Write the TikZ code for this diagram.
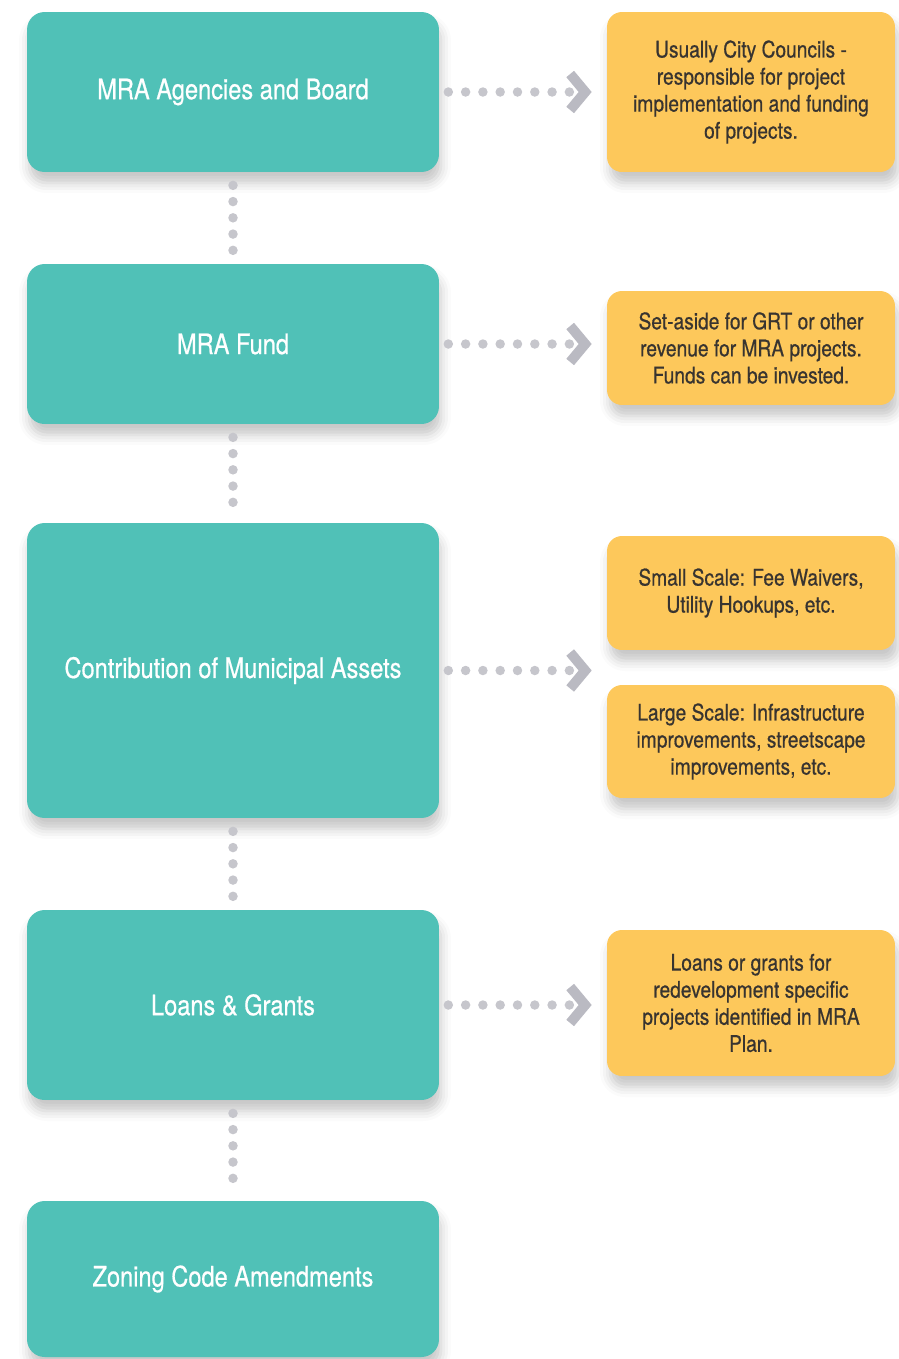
\documentclass[tikz,border=0pt]{standalone}
\usepackage{fontspec}
\setmainfont{TeX Gyre Heros}[FakeStretch=0.84, FakeBold=0.6]
\usepackage{xcolor}
\usetikzlibrary{arrows.meta,positioning,shadows.blur}
\definecolor{mraTeal}{RGB}{80,193,183}
\definecolor{noteGold}{RGB}{253,200,91}
\definecolor{noteText}{RGB}{56,52,48}
\definecolor{dotGrey}{RGB}{198,198,204}
\definecolor{chevGrey}{RGB}{186,186,194}
\tikzset{
  stage/.style={fill=mraTeal, rounded corners=10pt, text=white, align=center,
                font=\fontsize{16}{19}\selectfont, minimum width=8.24cm, inner sep=0pt,
                blur shadow={shadow xshift=0.04cm, shadow yshift=-0.22cm,
                             shadow blur radius=0.2cm, shadow opacity=22}},
  note/.style={fill=noteGold, rounded corners=8.5pt, text=noteText, align=center,
               font=\fontsize{13}{15.4}\selectfont, minimum width=5.76cm, inner sep=0pt,
               blur shadow={shadow xshift=0.06cm, shadow yshift=-0.22cm,
                            shadow blur radius=0.2cm, shadow opacity=22}},
  link/.style={draw=dotGrey, line width=0.19cm, line cap=round,
               dash pattern=on 0pt off 0.346cm, shorten <=0.18cm, shorten >=0.3cm,
               -{Straight Barb[length=0.3cm, width=0.72cm, line width=0.2cm, color=chevGrey]}},
  vlink/.style={draw=dotGrey, line width=0.19cm, line cap=round,
                dash pattern=on 0pt off 0.325cm, shorten <=0.26cm, shorten >=0.26cm}
}
\begin{document}
\begin{tikzpicture}[x=0.02cm, y=-0.02cm]
  \useasboundingbox (0,0) rectangle (899,1359);
  % left column
  \node[stage, minimum height=3.2cm] (agency) at (233,92) {MRA Agencies and Board};
  \node[stage, minimum height=3.2cm] (fund) at (233,344) {MRA Fund};
  \node[stage, minimum height=5.9cm] (assets) at (233,670.5) {Contribution of Municipal Assets};
  \node[stage, minimum height=3.8cm] (loans) at (233,1005) {Loans \& Grants};
  \node[stage, minimum height=3.12cm] (zoning) at (233,1279) {Zoning Code Amendments};
  % right column
  \node[note, minimum height=3.2cm] (agencyNote) at (751,92)
    {Usually City Councils -\\responsible for project\\implementation and funding\\of projects.};
  \node[note, minimum height=2.28cm] (fundNote) at (751,348)
    {Set-aside for GRT or other\\revenue for MRA projects.\\Funds can be invested.};
  \node[note, minimum height=2.28cm] (smallNote) at (751,593)
    {Small Scale: Fee Waivers,\\Utility Hookups, etc.};
  \node[note, minimum height=2.26cm] (largeNote) at (751,741.5)
    {Large Scale: Infrastructure\\improvements, streetscape\\improvements, etc.};
  \node[note, minimum height=2.92cm] (loansNote) at (751,1003)
    {Loans or grants for\\redevelopment specific\\projects identified in MRA\\Plan.};
  % connectors
  \draw[vlink] (agency.south) -- (fund.north);
  \draw[vlink] (fund.south) -- (assets.north);
  \draw[vlink] (assets.south) -- (loans.north);
  \draw[vlink] (loans.south) -- (zoning.north);
  \draw[link] (agency.east) -- (agencyNote.west);
  \draw[link] (fund.east) -- (fund.east -| fundNote.west);
  \draw[link] (assets.east) -- (assets.east -| smallNote.west);
  \draw[link] (loans.east) -- (loans.east -| loansNote.west);
\end{tikzpicture}
\end{document}
